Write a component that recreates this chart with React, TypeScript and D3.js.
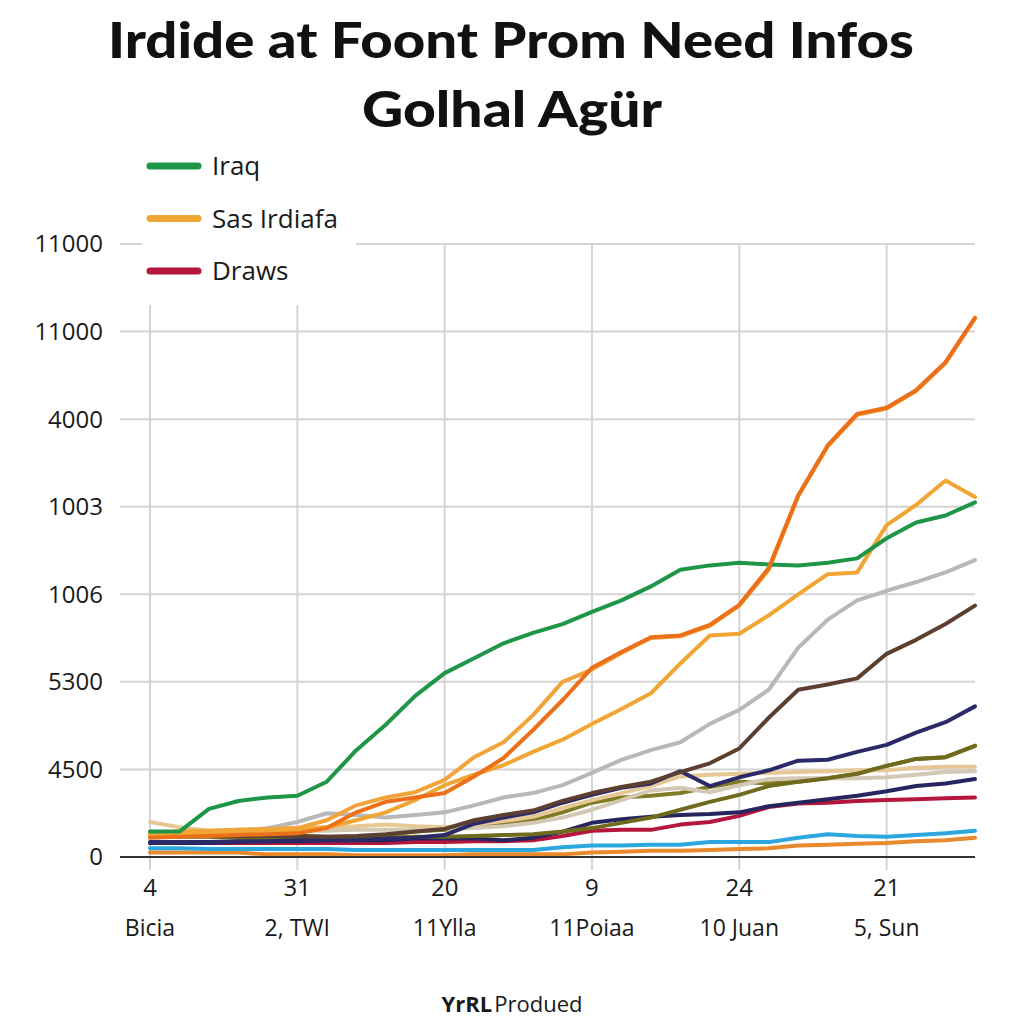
import React from 'react';
import * as d3 from 'd3';

const TITLE_LINE1 = 'Irdide at Foont Prom Need Infos';
const TITLE_LINE2 = 'Golhal Agür';
const X_AXIS_TITLE_BOLD = 'YrRL';
const X_AXIS_TITLE_REST = 'Produed';

const Y_TICK_LABELS = ['0', '4500', '5300', '1006', '1003', '4000', '11000', '11000'];
const X_TICK_INDEX = [0, 5, 10, 15, 20, 25];
const X_TICK_TOP = ['4', '31', '20', '9', '24', '21'];
const X_TICK_BOTTOM = ['Bicia', '2, TWI', '11Ylla', '11Poiaa', '10 Juan', '5, Sun'];

// values in grid units (one unit per gridline step)
const iraq = [0.29, 0.29, 0.55, 0.64, 0.68, 0.70, 0.86, 1.22, 1.51, 1.84, 2.10, 2.27, 2.44, 2.56, 2.66, 2.80, 2.93, 3.09, 3.28, 3.33, 3.36, 3.34, 3.33, 3.36, 3.41, 3.64, 3.82, 3.90, 4.05];
const sasIrdiafa = [0.25, 0.26, 0.27, 0.29, 0.30, 0.31, 0.34, 0.42, 0.51, 0.65, 0.82, 0.94, 1.05, 1.20, 1.34, 1.52, 1.69, 1.87, 2.21, 2.53, 2.55, 2.76, 3.00, 3.23, 3.25, 3.79, 4.02, 4.30, 4.11];
const draws = [0.16, 0.16, 0.16, 0.16, 0.16, 0.16, 0.16, 0.16, 0.16, 0.17, 0.17, 0.18, 0.18, 0.19, 0.24, 0.30, 0.31, 0.31, 0.37, 0.40, 0.47, 0.57, 0.61, 0.62, 0.64, 0.65, 0.66, 0.67, 0.68];
const darkOrange = [0.22, 0.23, 0.24, 0.25, 0.26, 0.27, 0.33, 0.51, 0.63, 0.68, 0.73, 0.92, 1.13, 1.45, 1.79, 2.16, 2.34, 2.51, 2.53, 2.65, 2.88, 3.30, 4.13, 4.70, 5.06, 5.13, 5.33, 5.65, 6.16];
const goldOrange = [0.27, 0.29, 0.30, 0.31, 0.32, 0.33, 0.42, 0.59, 0.68, 0.74, 0.88, 1.14, 1.31, 1.62, 2.00, 2.14, 2.33, 2.50, 2.52, 2.64, 2.87, 3.28, 4.12, 4.69, 5.05, 5.12, 5.32, 5.64, 6.15];
const grey = [0.24, 0.25, 0.26, 0.29, 0.33, 0.40, 0.50, 0.48, 0.45, 0.48, 0.51, 0.59, 0.68, 0.73, 0.82, 0.96, 1.11, 1.22, 1.31, 1.52, 1.68, 1.91, 2.39, 2.71, 2.93, 3.04, 3.14, 3.25, 3.39];
const brown = [0.26, 0.25, 0.24, 0.24, 0.24, 0.24, 0.23, 0.24, 0.26, 0.29, 0.32, 0.42, 0.48, 0.53, 0.64, 0.73, 0.80, 0.86, 0.97, 1.07, 1.24, 1.59, 1.91, 1.97, 2.04, 2.32, 2.48, 2.66, 2.87];
const oliveDark = [0.24, 0.23, 0.23, 0.22, 0.22, 0.22, 0.22, 0.22, 0.22, 0.23, 0.23, 0.24, 0.25, 0.26, 0.29, 0.33, 0.39, 0.45, 0.54, 0.63, 0.71, 0.81, 0.86, 0.90, 0.95, 1.04, 1.12, 1.14, 1.27];
const oliveLight = [0.27, 0.26, 0.25, 0.25, 0.24, 0.24, 0.23, 0.23, 0.25, 0.29, 0.31, 0.35, 0.39, 0.42, 0.51, 0.62, 0.68, 0.70, 0.73, 0.80, 0.86, 0.84, 0.86, 0.90, 0.95, 1.04, 1.12, 1.14, 1.27];
const tan = [0.40, 0.34, 0.30, 0.31, 0.32, 0.33, 0.34, 0.35, 0.37, 0.35, 0.34, 0.37, 0.41, 0.46, 0.56, 0.65, 0.73, 0.81, 0.92, 0.94, 0.95, 0.96, 0.97, 0.98, 0.99, 0.99, 1.02, 1.03, 1.03];
const beige = [0.26, 0.26, 0.27, 0.27, 0.29, 0.30, 0.30, 0.31, 0.31, 0.31, 0.32, 0.33, 0.35, 0.39, 0.45, 0.54, 0.65, 0.76, 0.79, 0.74, 0.82, 0.89, 0.90, 0.90, 0.90, 0.91, 0.94, 0.97, 0.98];
const navyUpper = [0.17, 0.17, 0.17, 0.18, 0.18, 0.19, 0.19, 0.19, 0.21, 0.22, 0.25, 0.38, 0.45, 0.51, 0.62, 0.71, 0.79, 0.84, 0.98, 0.81, 0.91, 0.99, 1.10, 1.11, 1.20, 1.28, 1.42, 1.54, 1.72];
const navyLower = [0.16, 0.16, 0.16, 0.17, 0.18, 0.18, 0.19, 0.19, 0.19, 0.21, 0.21, 0.21, 0.19, 0.22, 0.29, 0.39, 0.43, 0.46, 0.48, 0.49, 0.51, 0.58, 0.62, 0.66, 0.70, 0.75, 0.81, 0.84, 0.89];
const cyan = [0.10, 0.10, 0.09, 0.09, 0.09, 0.09, 0.09, 0.08, 0.08, 0.08, 0.08, 0.08, 0.08, 0.08, 0.11, 0.13, 0.13, 0.14, 0.14, 0.17, 0.17, 0.17, 0.22, 0.26, 0.24, 0.23, 0.25, 0.27, 0.30];
const orangeLow = [0.05, 0.05, 0.05, 0.05, 0.03, 0.03, 0.03, 0.02, 0.02, 0.02, 0.02, 0.03, 0.03, 0.03, 0.03, 0.05, 0.06, 0.07, 0.07, 0.08, 0.09, 0.10, 0.13, 0.14, 0.15, 0.16, 0.18, 0.19, 0.22];

const SERIES = [
  { name: 'orangeLow', color: '#e8892b', values: orangeLow },
  { name: 'cyan', color: '#2ba6de', values: cyan },
  { name: 'Draws', color: '#b5173c', values: draws },
  { name: 'navyLower', color: '#26255f', values: navyLower },
  { name: 'oliveLight', color: '#7f7c24', values: oliveLight },
  { name: 'beige', color: '#d3c8b4', values: beige },
  { name: 'tan', color: '#e6c896', values: tan },
  { name: 'oliveDark', color: '#6f6a1c', values: oliveDark },
  { name: 'navyUpper', color: '#2b2a68', values: navyUpper },
  { name: 'brown', color: '#5b4032', values: brown },
  { name: 'grey', color: '#b8b8b8', values: grey },
  { name: 'goldOrange', color: '#f2a43a', values: goldOrange },
  { name: 'Sas Irdiafa', color: '#f0a632', values: sasIrdiafa },
  { name: 'Iraq', color: '#1f9647', values: iraq },
  { name: 'darkOrange', color: '#ec7019', values: darkOrange },
];

const LEGEND = [
  { name: 'Iraq', color: '#1f9647' },
  { name: 'Sas Irdiafa', color: '#f0a632' },
  { name: 'Draws', color: '#b5173c' },
];

const FONT = "'Open Sans', 'Lato', sans-serif";

export default function App() {
  const W = 1024;
  const H = 1024;
  const nPts = iraq.length;
  const x = d3.scaleLinear().domain([0, nPts - 1]).range([150, 975]);
  const y = d3.scaleLinear().domain([0, 7]).range([857, 244]);
  const line = d3
    .line<number>()
    .x((_, i) => x(i))
    .y((d) => y(d));

  const gridLeft = 120;
  const gridRight = 975;

  return (
    <svg
      width={W}
      height={H}
      style={{ position: 'absolute', left: 0, top: 0, background: '#fff' }}
    >
      <rect x={0} y={0} width={W} height={H} fill="#ffffff" />
      {/* titles */}
      <text
        x={511}
        y={58}
        textAnchor="middle"
        fontFamily="'Lato', 'Open Sans', sans-serif"
        fontWeight={900}
        fontSize={50}
        fill="#111"
        textLength={806}
        lengthAdjust="spacingAndGlyphs"
      >
        {TITLE_LINE1}
      </text>
      <text
        x={512}
        y={127}
        textAnchor="middle"
        fontFamily="'Lato', 'Open Sans', sans-serif"
        fontWeight={900}
        fontSize={50}
        fill="#111"
        textLength={300}
        lengthAdjust="spacingAndGlyphs"
      >
        {TITLE_LINE2}
      </text>

      {/* horizontal grid */}
      {Y_TICK_LABELS.map((lab, i) => (
        <g key={'yg' + i}>
          {i > 0 && (
            <line
              x1={gridLeft}
              x2={gridRight}
              y1={y(i)}
              y2={y(i)}
              stroke="#d4d4d4"
              strokeWidth={2}
            />
          )}
          <text
            x={103}
            y={y(i)}
            dy="0.35em"
            textAnchor="end"
            fontFamily={FONT}
            fontSize={24}
            fill="#1a1a1a"
          >
            {lab}
          </text>
        </g>
      ))}

      {/* vertical grid */}
      {X_TICK_INDEX.map((ix, k) => (
        <g key={'xg' + k}>
          <line
            x1={x(ix)}
            x2={x(ix)}
            y1={y(7)}
            y2={870}
            stroke="#d4d4d4"
            strokeWidth={2}
          />
          <text
            x={x(ix)}
            y={888}
            dy="0.35em"
            textAnchor="middle"
            fontFamily={FONT}
            fontSize={24}
            fill="#1a1a1a"
          >
            {X_TICK_TOP[k]}
          </text>
          <text
            x={x(ix)}
            y={928}
            dy="0.35em"
            textAnchor="middle"
            fontFamily={FONT}
            fontSize={23}
            fill="#1a1a1a"
          >
            {X_TICK_BOTTOM[k]}
          </text>
        </g>
      ))}

      {/* legend box (covers grid) */}
      <rect x={142} y={140} width={214} height={165} fill="#ffffff" />
      {LEGEND.map((it, i) => (
        <g key={'lg' + i}>
          <line
            x1={150}
            x2={198}
            y1={166 + i * 52.5}
            y2={166 + i * 52.5}
            stroke={it.color}
            strokeWidth={7}
            strokeLinecap="round"
          />
          <text
            x={212}
            y={166 + i * 52.5}
            dy="0.36em"
            fontFamily={FONT}
            fontSize={26}
            fill="#1a1a1a"
          >
            {it.name}
          </text>
        </g>
      ))}

      {/* lines */}
      {SERIES.map((s) => (
        <path
          key={s.name}
          d={line(s.values) || ''}
          fill="none"
          stroke={s.color}
          strokeWidth={4}
          strokeLinejoin="round"
          strokeLinecap="round"
        />
      ))}

      {/* x axis line */}
      <line
        x1={gridLeft}
        x2={gridRight}
        y1={y(0)}
        y2={y(0)}
        stroke="#333"
        strokeWidth={2}
      />

      {/* x axis title */}
      <text
        x={512}
        y={1012}
        textAnchor="middle"
        fontFamily={FONT}
        fontSize={22}
        fill="#1a1a1a"
      >
        <tspan fontWeight={700}>{X_AXIS_TITLE_BOLD}</tspan>
        <tspan dx={2}>{X_AXIS_TITLE_REST}</tspan>
      </text>
    </svg>
  );
}
